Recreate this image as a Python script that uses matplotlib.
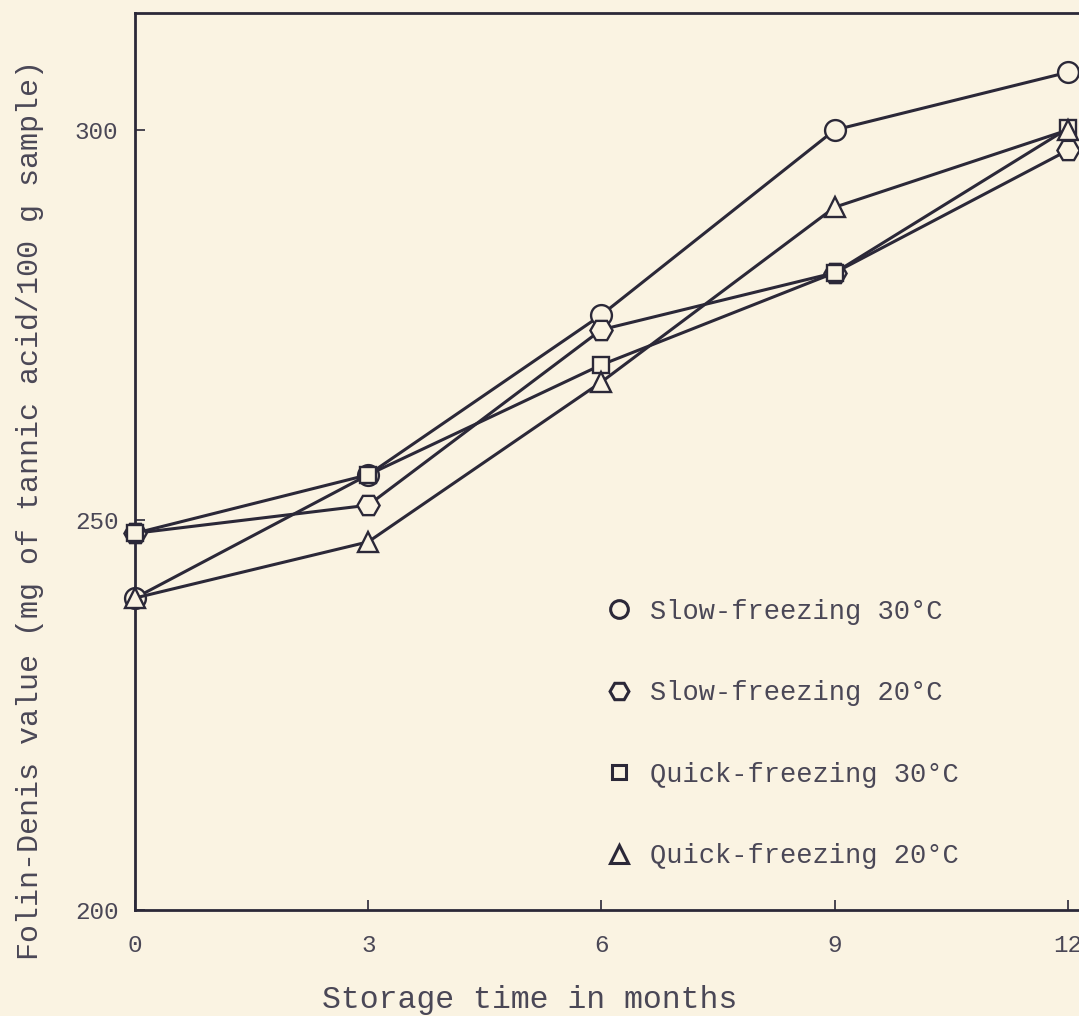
import matplotlib
matplotlib.use('Agg')
import matplotlib.pyplot as plt
from matplotlib.lines import Line2D

# storage time (months)
months = [0, 3, 6, 9, 12]

# Folin-Denis value (mg of tannic acid / 100 g sample)
slow_30 = [240.0, 255.8, 276.3, 300.0, 307.4]
slow_20 = [248.3, 251.9, 274.4, 281.7, 297.4]
quick_30 = [248.3, 255.8, 269.9, 281.7, 300.2]
quick_20 = [240.0, 247.2, 267.7, 290.1, 300.0]

labels = ['Slow-freezing 30°C', 'Slow-freezing 20°C',
          'Quick-freezing 30°C', 'Quick-freezing 20°C']
markers = ['o', 'H', 's', '^']
yticks = [200, 250, 300]
xticks = [0, 3, 6, 9, 12]

paper = '#faf3e2'
ink = '#2b2838'
text_ink = '#4a4756'

plt.rcParams['font.family'] = ['Liberation Mono', 'DejaVu Sans Mono']

fig = plt.figure(figsize=(10.79, 10.16), dpi=100, facecolor=paper)
ax = fig.add_axes([0.1251, 0.1043, 0.879, 0.8829], facecolor=paper)

series = [slow_30, slow_20, quick_30, quick_20]
sizes = [15, 16, 12, 15]
for vals, mk, ms in zip(series, markers, sizes):
    ax.plot(months, vals, color=ink, lw=2.2, marker=mk, ms=ms,
            mfc=paper, mec=ink, mew=1.7, clip_on=False, zorder=3)

ax.set_xlim(0, 12.2)
ax.set_ylim(200, 315)
ax.set_xticks(xticks)
ax.set_yticks(yticks)
ax.tick_params(direction='in', length=7, width=1.2, colors=ink,
               labelcolor=text_ink, labelsize=17.5)
ax.tick_params(axis='x', pad=17)
ax.tick_params(axis='y', pad=12)
for s in ax.spines.values():
    s.set_color(ink)
    s.set_linewidth(2.0)
ax.spines['right'].set_visible(False)

fig.text(530 / 1079, 1 - 1000 / 1016, 'Storage time in months',
         ha='center', va='center', fontsize=22.7, color=text_ink)
fig.text(30 / 1079, 1 - 510 / 1016,
         'Folin-Denis value (mg of tannic acid/100 g sample)',
         ha='center', va='center', rotation=90, fontsize=21.6, color=text_ink)

handles = [Line2D([], [], ls='none', marker=mk, ms=ms * 0.85, mfc=paper,
                  mec=ink, mew=2.2) for mk, ms in zip(markers, sizes)]
leg = ax.legend(handles, labels, loc='upper left',
                bbox_to_anchor=(592 / 1079, 1 - 585 / 1016),
                bbox_transform=fig.transFigure, frameon=False,
                fontsize=19.5, labelspacing=2.05, handlelength=1.0,
                handletextpad=0.65, borderpad=0)
for t in leg.get_texts():
    t.set_color(text_ink)

fig.savefig('out.png', dpi=100, facecolor=paper)
